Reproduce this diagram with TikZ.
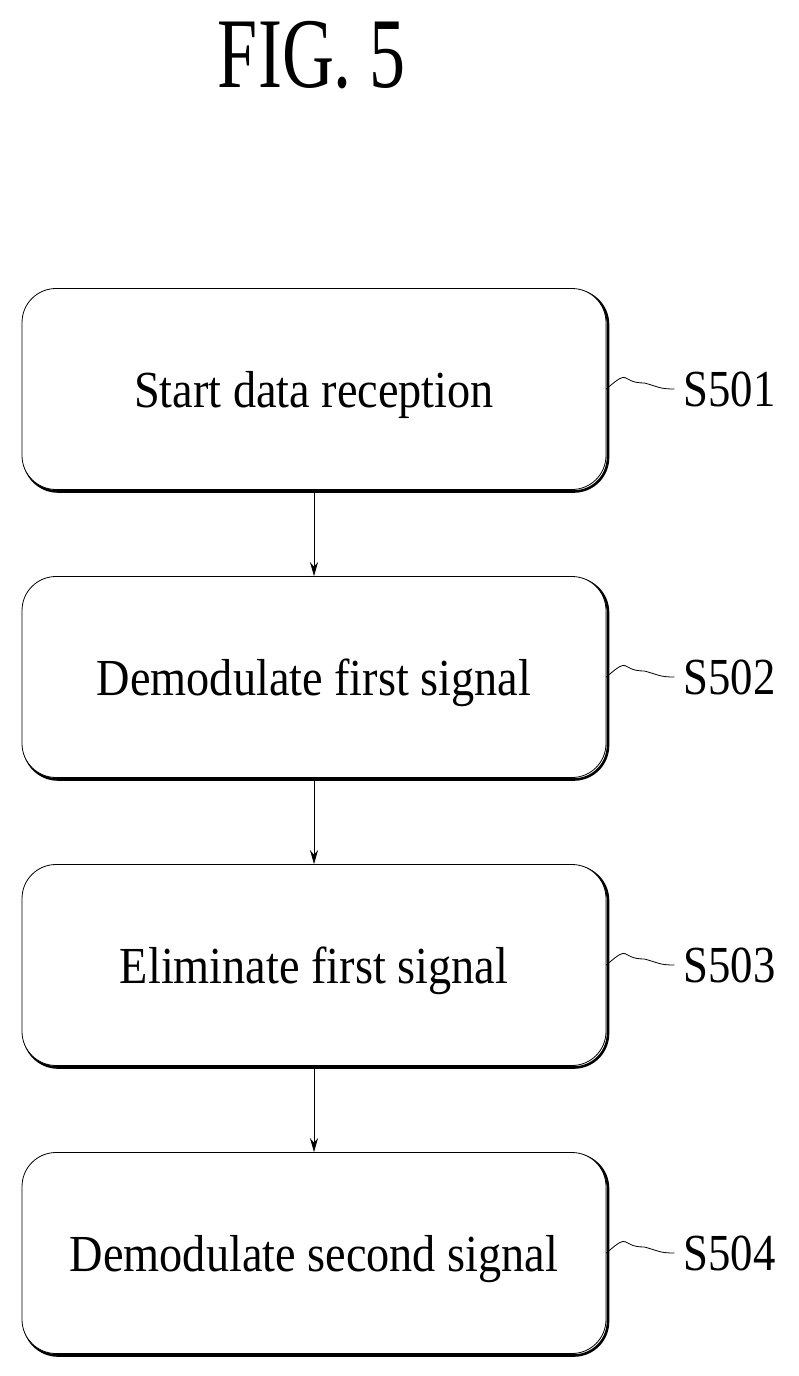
\documentclass[tikz,border=0pt]{standalone}
\usepackage{fontspec}
\setmainfont{Liberation Serif}
\usetikzlibrary{arrows.meta}
\tikzset{
    stepbox/.style={draw, line width=0.8pt, rounded corners=34pt, fill=white,
        minimum width=584pt, minimum height=201pt,
        font=\fontsize{52}{60}\selectfont, text depth=0pt},
    shade/.style={draw, line width=2.6pt, rounded corners=34pt,
        minimum width=584pt, minimum height=201pt},
    link/.style={-{Stealth[length=14pt,width=8pt]}, line width=0.8pt},
    tag/.style={font=\fontsize{52}{60}\selectfont, anchor=west}
}
\begin{document}
\begin{tikzpicture}[x=1pt,y=-1pt]
    \useasboundingbox (0,0) rectangle (798,1376);
    \node[font=\fontsize{100}{110}\selectfont, xscale=0.72] (title) at (312,55) {FIG. 5};
    \foreach \i/\y/\txt in {1/389/Start data reception,2/677/Demodulate first signal,
        3/965/Eliminate first signal,4/1253/Demodulate second signal}{
        \node[shade] at (316,\y+2) {};
        \node[stepbox] (s\i) at (314,\y) {\scalebox{0.89}[1]{\txt}};
        \draw[line width=0.8pt] (s\i.east) .. controls +(25,-22) and +(-25,0) .. +(38,-6)
            .. controls +(15,4) and +(-15,0) .. +(68,0);
        \node[tag] (t\i) at (680,\y) {\scalebox{0.86}[1]{S50\i}};
    }
    \foreach \a/\b in {1/2,2/3,3/4}{
        \draw[link] (s\a.south) -- (s\b.north);
    }
\end{tikzpicture}
\end{document}
